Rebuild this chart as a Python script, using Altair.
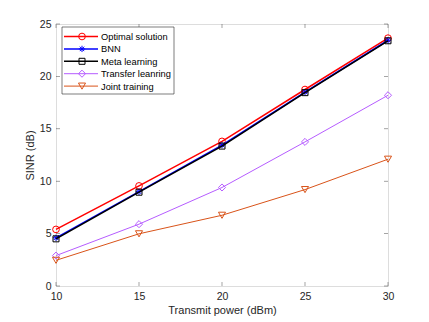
import altair as alt
import pandas as pd

# ---- data ----
power = [10, 15, 20, 25, 30]
names = ["Optimal solution", "BNN", "Meta learning", "Transfer leanring", "Joint training"]
optimal = [5.4, 9.55, 13.8, 18.75, 23.65]
bnn = [4.6, 9.0, 13.45, 18.5, 23.45]
meta = [4.5, 8.95, 13.35, 18.45, 23.4]
transfer = [2.9, 5.9, 9.4, 13.75, 18.2]
joint = [2.45, 4.98, 6.75, 9.2, 12.1]
series_vals = [optimal, bnn, meta, transfer, joint]
xticks = [10, 15, 20, 25, 30]
yticks = [0, 5, 10, 15, 20, 25]

# ---- styles ----
colors = ["#FF0000", "#0000FF", "#000000", "#B65CFF", "#D95319"]
widths = [1.5, 1.5, 1.5, 1.0, 1.0]
asterisk = "M-1,0L1,0M0,-1L0,1M-0.7,-0.7L0.7,0.7M-0.7,0.7L0.7,-0.7"
shapes = ["circle", asterisk, "square", "diamond", "triangle-down"]
sizes = [45, 40, 36, 50, 50]

W, H = 332, 262
FONT = "Liberation Sans"
AX = "#262626"

xs = alt.Scale(domain=[10, 30], nice=False)
ys = alt.Scale(domain=[0, 25], nice=False)

layers = []

# axes (labels/titles only, ticks drawn inward separately)
base_df = pd.DataFrame({"x": [10], "y": [0]})
axes = alt.Chart(base_df).mark_point(opacity=0).encode(
    x=alt.X("x:Q", scale=xs, title="Transmit power (dBm)",
            axis=alt.Axis(values=xticks, ticks=False, domain=False, grid=False,
                          labelFlush=False,
                          labelFont=FONT, labelFontSize=10.5, labelColor=AX,
                          labelPadding=5, titleFont=FONT, titleFontSize=11,
                          titleFontWeight="normal", titleColor=AX, titlePadding=3,
                          format="d")),
    y=alt.Y("y:Q", scale=ys, title="SINR (dB)",
            axis=alt.Axis(values=yticks, ticks=False, domain=False, grid=False,
                          labelFlush=False,
                          labelFont=FONT, labelFontSize=10.5, labelColor=AX,
                          labelPadding=5, titleFont=FONT, titleFontSize=11,
                          titleFontWeight="normal", titleColor=AX, titlePadding=4,
                          format="d")),
)
layers.append(axes)

# inward ticks
xt_df = pd.DataFrame({"x": xticks})
yt_df = pd.DataFrame({"y": yticks})
for yv in [H - 2, 2]:
    layers.append(alt.Chart(xt_df).mark_tick(orient="vertical", size=4, thickness=0.6, color=AX)
                  .encode(x=alt.X("x:Q", scale=xs), y=alt.value(yv)))
for xv in [2, W - 2]:
    layers.append(alt.Chart(yt_df).mark_tick(orient="horizontal", size=4, thickness=0.6, color=AX)
                  .encode(y=alt.Y("y:Q", scale=ys), x=alt.value(xv)))

# series
for name, vals, c, w, shp, sz in zip(names, series_vals, colors, widths, shapes, sizes):
    df = pd.DataFrame({"x": power, "y": vals})
    enc = dict(x=alt.X("x:Q", scale=xs), y=alt.Y("y:Q", scale=ys))
    layers.append(alt.Chart(df).mark_line(color=c, strokeWidth=w).encode(**enc))
    layers.append(alt.Chart(df).mark_point(shape=shp, size=sz, filled=False, color=c,
                                           strokeWidth=1.0, opacity=1).encode(**enc))

# legend box
layers.append(alt.Chart(base_df).mark_rect(fill="white", stroke=AX, strokeWidth=0.6).encode(
    x=alt.value(6), x2=alt.value(118), y=alt.value(3), y2=alt.value(70)))

for i, (name, c, w, shp, sz) in enumerate(zip(names, colors, widths, shapes, sizes)):
    ly = 12.5 + 12.4 * i
    layers.append(alt.Chart(base_df).mark_rule(color=c, strokeWidth=w).encode(
        x=alt.value(8), x2=alt.value(42), y=alt.value(ly)))
    layers.append(alt.Chart(base_df).mark_point(shape=shp, size=sz, filled=False, color=c,
                                                strokeWidth=1.0, opacity=1).encode(
        x=alt.value(26), y=alt.value(ly)))
    layers.append(alt.Chart(base_df).mark_text(align="left", baseline="middle", font=FONT,
                                               fontSize=9.3, color="#000000").encode(
        x=alt.value(45), y=alt.value(ly + 0.5), text=alt.value(name)))

chart = alt.layer(*layers).properties(
    width=W, height=H,
    autosize=alt.AutoSizeParams(type="none"),
    padding={"left": 48, "top": 16, "right": 20, "bottom": 32},
).configure_view(stroke=AX, strokeWidth=0.6).configure(background="white")

chart.save("out.html", embed_options={"renderer": "svg", "actions": False})
